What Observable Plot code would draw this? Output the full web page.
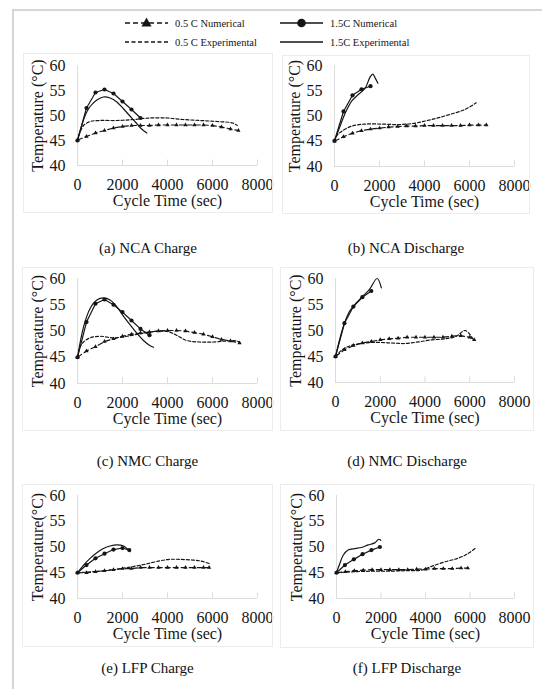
<!DOCTYPE html>
<html>
<head>
<meta charset="utf-8">
<script src="https://cdn.jsdelivr.net/npm/d3@7"></script>
<script src="https://cdn.jsdelivr.net/npm/@observablehq/plot@0.6"></script>
<style>
  html, body { margin: 0; padding: 0; background: #fff; }
  #root { position: relative; width: 542px; height: 689px; overflow: hidden; background: #fff;
          font-family: "Liberation Serif", "Times New Roman", serif; color: #111; }
  .frame { position: absolute; left: 12px; top: 9px; width: 600px; height: 700px;
           border-left: 2px solid #d6d6d6; border-top: 2px solid #d6d6d6; }
  .panel { position: absolute; outline: 1px solid #ececec; background: #fff; }
  .panel svg { display: block; overflow: visible; }
  .cap { position: absolute; width: 250px; text-align: center; font-size: 15px; line-height: 18px; }
  #legend { position: absolute; left: 0; top: 0; }
</style>
</head>
<body>
<div id="root">
  <div class="frame"></div>
</div>
<script>
// ---------- data ----------
const xTicks = [0, 2000, 4000, 6000, 8000];
const yTicks = [40, 45, 50, 55, 60];
const legendLabels = ["0.5 C Numerical", "1.5C Numerical", "0.5 C Experimental", "1.5C Experimental"];
const captions = ["(a) NCA Charge", "(b) NCA Discharge", "(c) NMC Charge", "(d) NMC Discharge", "(e) LFP Charge", "(f) LFP Discharge"];

// (a) NCA Charge
const ncaChargeNum05 = [[0,45.1],[400,45.8],[800,46.5],[1200,47],[1600,47.5],[2000,47.8],[2400,48],[2800,48],[3200,48],[3600,48.1],[4000,48.1],[4400,48.1],[4800,48.1],[5200,48.1],[5600,48.1],[6000,48],[6400,47.7],[6800,47.3],[7150,47]];
const ncaChargeExp05 = [[0,45],[100,46.5],[270,48],[560,48.8],[1000,49],[1750,49],[2500,49.2],[3200,49.5],[4000,49.5],[4700,49.2],[5450,49],[6200,48.8],[6900,48.5],[7100,48]];
const ncaChargeNum15 = [[0,45],[400,51.5],[800,54.6],[1200,55.2],[1600,54.4],[2000,52.8],[2400,51.2],[2800,49.5]];
const ncaChargeExp15 = [[0,45],[120,47],[340,50],[560,51.8],[860,53.1],[1150,53.7],[1450,53.5],[1750,52.7],[2050,51.3],[2350,49.8],[2650,48.3],[2850,47.3],[3080,46.5]];

// (b) NCA Discharge
const ncaDisNum05 = [[0,45],[400,45.9],[800,46.6],[1200,47.1],[1600,47.4],[2000,47.6],[2400,47.8],[2800,47.9],[3200,48],[3600,48],[4000,48.1],[4400,48.1],[4800,48.1],[5200,48.1],[5600,48.1],[6000,48.2],[6400,48.2],[6750,48.2]];
const ncaDisExp05 = [[0,45],[120,46.2],[330,47],[770,48],[1360,48.4],[2100,48.4],[2850,48.3],[3600,48.6],[4300,49.3],[5050,50.2],[5800,51.3],[6300,52.6]];
const ncaDisNum15 = [[0,45.1],[400,50.9],[800,54.1],[1200,55.3],[1600,55.9]];
const ncaDisExp15 = [[0,45],[250,48],[480,50.6],[770,53],[1070,54.3],[1360,55.5],[1580,57.7],[1700,58.3],[1810,57.5],[1930,56.5]];

// (c) NMC Charge
const nmcChargeNum05 = [[0,45],[400,46.2],[800,47],[1200,48],[1600,48.5],[2000,49],[2400,49.4],[2800,49.6],[3200,49.8],[3600,50],[4000,50.1],[4400,50.1],[4800,50],[5200,49.7],[5600,49.4],[6000,48.9],[6400,48.4],[6800,48.1],[7200,47.7]];
const nmcChargeExp05 = [[0,45],[100,46.8],[270,47.9],[560,48.7],[1000,49],[1600,48.7],[2200,49],[2800,49.5],[3400,49.9],[4000,49.9],[4400,49.2],[4850,48.2],[5450,47.9],[6050,47.9],[6650,48.1],[7080,48.1],[7230,47.7]];
const nmcChargeNum15 = [[0,45],[400,51.7],[800,55.2],[1200,56],[1600,55],[2000,53.6],[2400,52],[2800,50.4],[3200,49.2]];
const nmcChargeExp15 = [[0,45],[270,50.8],[560,54.3],[860,55.9],[1150,56.3],[1450,55.9],[1750,54.6],[2050,52.8],[2350,51.1],[2650,49.5],[2930,48.2],[3230,47.2],[3380,46.9]];

// (d) NMC Discharge
const nmcDisNum05 = [[0,45],[400,46.3],[800,47.1],[1200,47.6],[1600,47.9],[2000,48.2],[2400,48.4],[2800,48.5],[3200,48.7],[3600,48.7],[4000,48.7],[4400,48.7],[4800,48.7],[5200,48.9],[5600,49],[6000,48.7],[6200,48.2]];
const nmcDisExp05 = [[0,45],[330,46.4],[700,47.1],[1300,47.6],[1900,47.7],[2500,47.6],[3100,47.5],[3700,47.8],[4300,48.2],[4900,48.4],[5400,48.9],[5800,50],[6140,48.4]];
const nmcDisNum15 = [[0,45],[400,51.4],[800,54.6],[1200,56.4],[1600,57.6]];
const nmcDisExp15 = [[0,45],[180,48.2],[400,51.4],[630,53.7],[930,55.3],[1220,56.6],[1520,57.9],[1860,60],[2050,58.2]];

// (e) LFP Charge
const lfpChargeNum05 = [[0,45],[400,45],[800,45.2],[1200,45.4],[1600,45.6],[2000,45.8],[2400,45.8],[2800,46],[3200,46],[3600,46],[4000,46],[4400,46],[4800,46],[5200,46],[5600,46],[5850,46]];
const lfpChargeExp05 = [[0,45],[700,45.2],[1450,45.5],[2200,46],[2950,46.6],[3650,47.3],[4100,47.6],[4550,47.6],[5000,47.5],[5450,47.3],[5850,46.8]];
const lfpChargeNum15 = [[0,45],[400,46.5],[800,47.8],[1200,48.7],[1600,49.5],[2000,49.8],[2300,49.4]];
const lfpChargeExp15 = [[0,45],[270,46.5],[560,47.8],[860,48.9],[1150,49.7],[1450,50.2],[1750,50.4],[2050,50.2],[2270,49.4],[2340,49.1]];

// (f) LFP Discharge
const lfpDisNum05 = [[0,45],[400,45.2],[800,45.4],[1200,45.5],[1600,45.6],[2000,45.6],[2400,45.6],[2800,45.6],[3200,45.6],[3600,45.7],[4000,45.7],[4400,45.8],[4800,45.8],[5200,45.8],[5600,45.9],[5900,45.9]];
const lfpDisExp05 = [[0,45],[800,45.2],[1570,45.3],[2300,45.3],[3050,45.4],[3800,45.5],[4250,46.2],[4850,47.1],[5450,47.8],[5900,48.7],[6280,49.9]];
const lfpDisNum15 = [[0,45],[380,46.5],[780,47.6],[1170,48.6],[1570,49.4],[1950,50]];
const lfpDisExp15 = [[0,45],[150,46.8],[300,48.4],[520,49.4],[820,49.7],[1120,49.9],[1420,50.4],[1720,50.8],[1900,51.5],[1990,51.3]];

// ---------- layout ----------
const panels = [
  {box:{l:24,t:54,w:248,h:158},  area:{x0:77,x1:257,yTop:65,yBot:165},  label:"Temperature (°C)", s:[ncaChargeNum05,ncaChargeExp05,ncaChargeNum15,ncaChargeExp15], capY:239},
  {box:{l:283,t:56,w:246,h:157}, area:{x0:334,x1:514,yTop:65,yBot:166}, label:"Temperature (°C)", s:[ncaDisNum05,ncaDisExp05,ncaDisNum15,ncaDisExp15], capY:239},
  {box:{l:23,t:268,w:249,h:162}, area:{x0:77,x1:257,yTop:278,yBot:383}, label:"Temperature (°C)", s:[nmcChargeNum05,nmcChargeExp05,nmcChargeNum15,nmcChargeExp15], capY:452},
  {box:{l:281,t:268,w:252,h:162},area:{x0:335,x1:514,yTop:278,yBot:382},label:"Temperature (°C)", s:[nmcDisNum05,nmcDisExp05,nmcDisNum15,nmcDisExp15], capY:452},
  {box:{l:23,t:485,w:249,h:161}, area:{x0:77,x1:257,yTop:495,yBot:598}, label:"Temperature(°C)", s:[lfpChargeNum05,lfpChargeExp05,lfpChargeNum15,lfpChargeExp15], capY:659},
  {box:{l:281,t:485,w:252,h:162},area:{x0:336,x1:514,yTop:495,yBot:598},label:"Temperature(°C)", s:[lfpDisNum05,lfpDisExp05,lfpDisNum15,lfpDisExp15], capY:659}
];

const ink = "#151515";
const X = d => d[0], Y = d => d[1];

function makePanel(p) {
  const {box, area} = p;
  const [num05, exp05, num15, exp15] = p.s;
  return Plot.plot({
    width: box.w, height: box.h,
    marginLeft: area.x0 - box.l,
    marginRight: box.l + box.w - area.x1,
    marginTop: area.yTop - box.t,
    marginBottom: box.t + box.h - area.yBot,
    style: {fontFamily: "'Liberation Serif', 'Times New Roman', serif", fontSize: "16px", color: ink, background: "#fff", overflow: "visible"},
    x: {domain: [0, 8000]},
    y: {domain: [40, 60]},
    marks: [
      Plot.ruleY([40], {stroke: "#dcdcdc"}),
      Plot.ruleX([0], {stroke: "#dcdcdc"}),
      Plot.ruleX(xTicks.slice(1), {y1: 40, y2: 41.1, stroke: "#dcdcdc"}),
      Plot.axisX({ticks: xTicks, tickSize: 0, tickPadding: 13, tickFormat: d3.format("d"),
        label: "Cycle Time (sec)", labelAnchor: "center", labelArrow: "none", labelOffset: 40}),
      Plot.axisY({ticks: yTicks, tickSize: 0, tickPadding: 12, tickFormat: d3.format("d"),
        label: p.label, labelAnchor: "center", labelArrow: "none", labelOffset: 46}),
      Plot.line(exp05, {x: X, y: Y, stroke: ink, strokeWidth: 1.2, strokeDasharray: "3,2", curve: "catmull-rom"}),
      Plot.line(num05, {x: X, y: Y, stroke: ink, strokeWidth: 1.2, strokeDasharray: "5,3"}),
      Plot.dot(num05, {x: X, y: Y, symbol: "triangle", r: 1.6, fill: ink, stroke: "none"}),
      Plot.line(exp15, {x: X, y: Y, stroke: ink, strokeWidth: 1.2, curve: "catmull-rom"}),
      Plot.line(num15, {x: X, y: Y, stroke: ink, strokeWidth: 1.2}),
      Plot.dot(num15, {x: X, y: Y, r: 2.1, fill: ink, stroke: "none"})
    ]
  });
}

const root = document.getElementById("root");

panels.forEach((p, i) => {
  const div = document.createElement("div");
  div.className = "panel";
  div.style.left = p.box.l + "px";
  div.style.top = p.box.t + "px";
  div.style.width = p.box.w + "px";
  div.style.height = p.box.h + "px";
  div.appendChild(makePanel(p));
  root.appendChild(div);

  const cap = document.createElement("div");
  cap.className = "cap";
  cap.textContent = captions[i];
  cap.style.left = (p.box.l + p.box.w / 2 - 125) + "px";
  cap.style.top = p.capY + "px";
  root.appendChild(cap);
});

// ---------- legend ----------
const ns = "http://www.w3.org/2000/svg";
const leg = document.createElementNS(ns, "svg");
leg.setAttribute("id", "legend");
leg.setAttribute("width", 542);
leg.setAttribute("height", 52);
const items = [
  {x: 125, y: 23, dash: "5,3", marker: "tri", text: legendLabels[0]},
  {x: 280, y: 23, dash: null, marker: "dot", text: legendLabels[1]},
  {x: 125, y: 42, dash: "4,2.5", marker: null, text: legendLabels[2]},
  {x: 280, y: 42, dash: null, marker: null, text: legendLabels[3]}
];
items.forEach(it => {
  const ln = document.createElementNS(ns, "line");
  ln.setAttribute("x1", it.x); ln.setAttribute("x2", it.x + 43);
  ln.setAttribute("y1", it.y); ln.setAttribute("y2", it.y);
  ln.setAttribute("stroke", ink); ln.setAttribute("stroke-width", 1.6);
  if (it.dash) ln.setAttribute("stroke-dasharray", it.dash);
  leg.appendChild(ln);
  const cx = it.x + 21.5;
  if (it.marker === "tri") {
    const t = document.createElementNS(ns, "path");
    t.setAttribute("d", `M${cx},${it.y - 5.5}L${cx + 5},${it.y + 3.5}L${cx - 5},${it.y + 3.5}Z`);
    t.setAttribute("fill", ink);
    leg.appendChild(t);
  } else if (it.marker === "dot") {
    const c = document.createElementNS(ns, "circle");
    c.setAttribute("cx", cx); c.setAttribute("cy", it.y); c.setAttribute("r", 4.3);
    c.setAttribute("fill", ink);
    leg.appendChild(c);
  }
  const tx = document.createElementNS(ns, "text");
  tx.setAttribute("x", it.x + 50); tx.setAttribute("y", it.y + 3.5);
  tx.setAttribute("font-size", "10.5");
  tx.setAttribute("font-family", "Liberation Serif, Times New Roman, serif");
  tx.setAttribute("fill", ink);
  tx.textContent = it.text;
  leg.appendChild(tx);
});
root.appendChild(leg);
</script>
</body>
</html>
